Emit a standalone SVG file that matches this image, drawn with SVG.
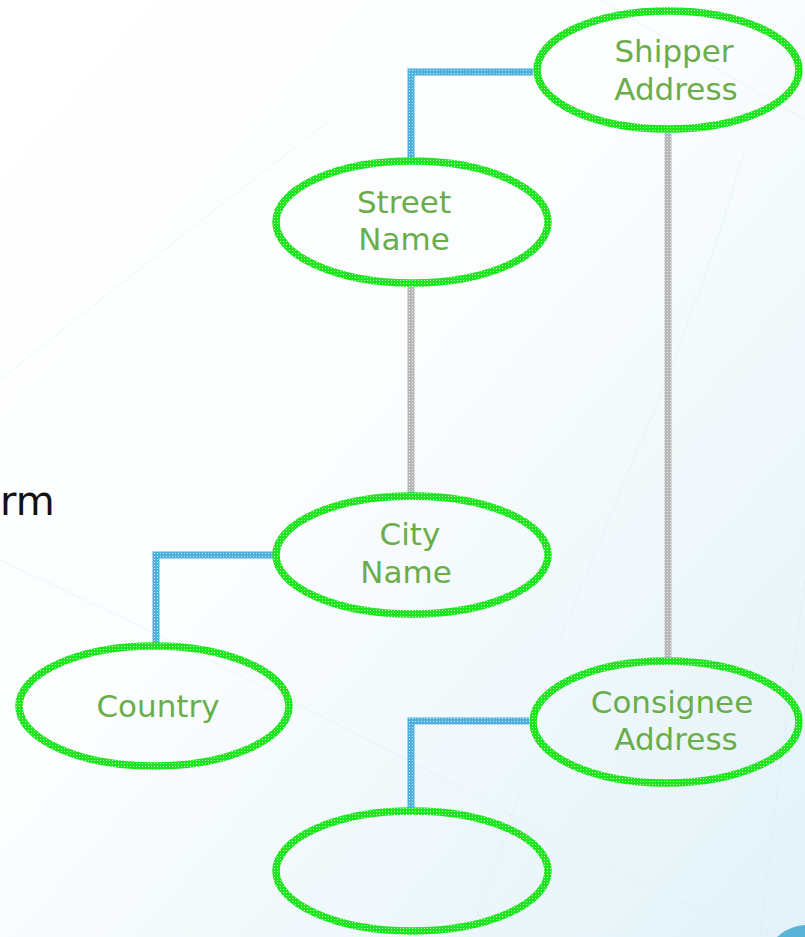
<svg xmlns="http://www.w3.org/2000/svg" width="805" height="937" viewBox="0 0 805 937">
  <defs>
    <linearGradient id="bg" x1="0" y1="0" x2="1" y2="1">
      <stop offset="0" stop-color="#ffffff"/>
      <stop offset="0.45" stop-color="#fbfdfe"/>
      <stop offset="1" stop-color="#e2f2f8"/>
    </linearGradient>
    <pattern id="dotGreen" width="3" height="3" patternUnits="userSpaceOnUse">
      <rect width="3" height="3" fill="#1ee61e"/>
      <rect x="1" y="1" width="1" height="1" fill="#b8ffb8"/>
    </pattern>
    <pattern id="dotBlue" width="3" height="3" patternUnits="userSpaceOnUse">
      <rect width="3" height="3" fill="#4fb0de"/>
      <rect x="1" y="1" width="1" height="1" fill="#c4e8f8"/>
    </pattern>
    <pattern id="dotGrey" width="3" height="3" patternUnits="userSpaceOnUse">
      <rect width="3" height="3" fill="#b8b8b8"/>
      <rect x="1" y="1" width="1" height="1" fill="#e8e8e8"/>
    </pattern>
  </defs>
  <style>
    .node { fill: none; stroke: url(#dotGreen); stroke-width: 7.5; }
    .lbl { font-family: "DejaVu Sans", Verdana, sans-serif; font-size: 31px; fill: #6aae4c; text-anchor: middle; }
    .elbow { fill: none; stroke: url(#dotBlue); stroke-width: 7; stroke-linejoin: miter; }
    .trunk { fill: none; stroke: url(#dotGrey); stroke-width: 7; }
    .deco { fill: none; stroke: #dbe9ef; stroke-width: 1; opacity: 0.45; }
  </style>

  <!-- backdrop -->
  <rect width="805" height="937" fill="url(#bg)"/>
  <g id="backdrop-lines">
    <path class="deco" d="M 745 150 Q 700 300 650 420 T 560 640"/>
    <path class="deco" d="M 600 0 L 805 120"/>
    <path class="deco" d="M 0 560 Q 300 700 520 820 T 805 940"/>
    <path class="deco" d="M 805 580 Q 780 760 760 937"/>
    <path class="deco" d="M 520 790 L 470 937"/>
    <path class="deco" d="M 330 120 Q 150 260 0 380"/>
  </g>
  <ellipse cx="808" cy="958" rx="40" ry="33" fill="#58b3d6"/>

  <text x="0" y="515" font-family="DejaVu Sans, Verdana, sans-serif" font-size="40" fill="#111111">rm</text>

  <!-- connectors -->
  <g id="connectors">
    <path class="elbow" d="M 533 72 H 411 V 158"/>
    <path class="trunk" d="M 668 133 V 657"/>
    <path class="trunk" d="M 411 287 V 493"/>
    <path class="elbow" d="M 273 555 H 156 V 643"/>
    <path class="elbow" d="M 529 721 H 411 V 808"/>
  </g>

  <!-- nodes -->
  <g id="shipper-address">
    <ellipse class="node" cx="668" cy="70" rx="131" ry="59"/>
    <text class="lbl" x="674" y="62">Shipper</text>
    <text class="lbl" x="676" y="100">Address</text>
  </g>
  <g id="street-name">
    <ellipse class="node" cx="412" cy="222" rx="136" ry="61"/>
    <text class="lbl" x="404" y="213">Street</text>
    <text class="lbl" x="404" y="250">Name</text>
  </g>
  <g id="city-name">
    <ellipse class="node" cx="412" cy="555" rx="136" ry="59"/>
    <text class="lbl" x="410" y="545">City</text>
    <text class="lbl" x="406" y="583">Name</text>
  </g>
  <g id="country">
    <ellipse class="node" cx="154" cy="706" rx="135" ry="60"/>
    <text class="lbl" x="158" y="717">Country</text>
  </g>
  <g id="consignee-address">
    <ellipse class="node" cx="666" cy="722" rx="133" ry="61"/>
    <text class="lbl" x="672" y="713">Consignee</text>
    <text class="lbl" x="676" y="750">Address</text>
  </g>
  <g id="blank-node">
    <ellipse class="node" cx="412" cy="871" rx="136" ry="60"/>
  </g>
</svg>
